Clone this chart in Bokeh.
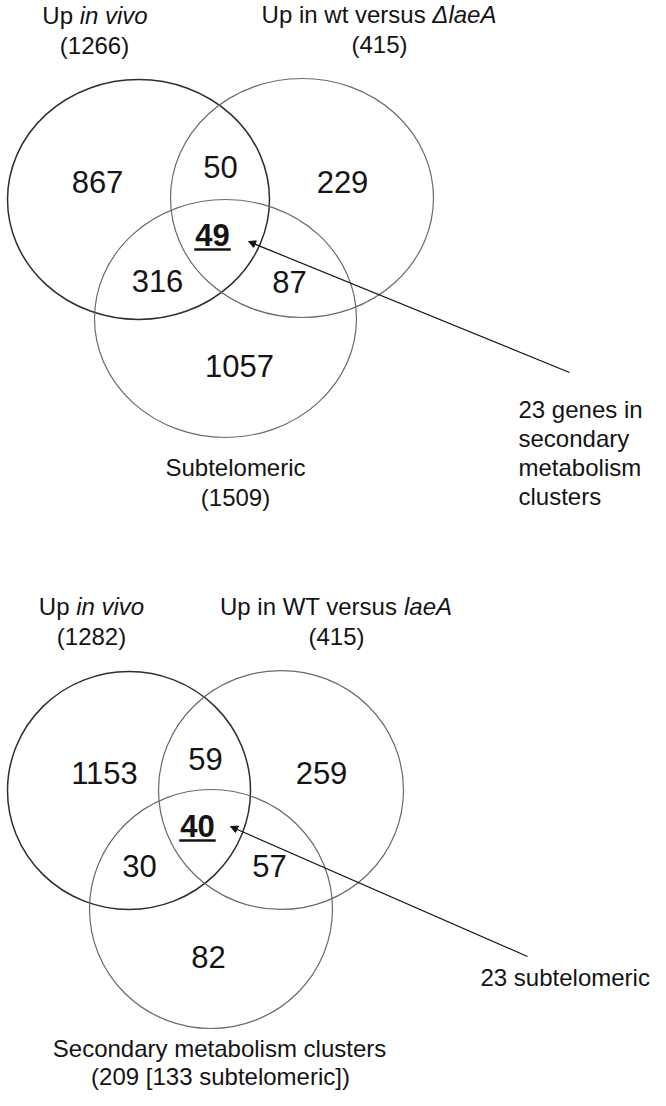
from bokeh.plotting import figure
from bokeh.models import Range1d, ColumnDataSource, Arrow, NormalHead
from bokeh.core.properties import value
from bokeh.embed import file_html
from bokeh.resources import INLINE

# ---------------- data ----------------
region_keys = ["A", "AB", "B", "ABC", "AC", "BC", "C"]
top_counts = [867, 50, 229, 49, 316, 87, 1057]
bottom_counts = [1153, 59, 259, 40, 30, 57, 82]

top_set_names = [("Up ", "in vivo"), ("Up in wt versus ", "\u0394laeA"), ("Subtelomeric", "")]
top_set_totals = ["(1266)", "(415)", "(1509)"]
bottom_set_names = [("Up ", "in vivo"), ("Up in WT versus ", "laeA"),
                    ("Secondary metabolism clusters", "")]
bottom_set_totals = ["(1282)", "(415)", "(209 [133 subtelomeric])"]

top_note = ["23 genes in", "secondary", "metabolism", "clusters"]
bottom_note = ["23 subtelomeric"]

# ---------------- layout (page pixel coordinates; y values are text centres) ----------------
FONT = "Liberation Sans"
LABEL_PX = 24
NUM_PX = 31
TXT = "#141414"

panels = [
    dict(
        counts=top_counts, names=top_set_names, totals=top_set_totals, note=top_note,
        circles=dict(x=[146, 309.5, 233], y=[207, 205.5, 326],
                     w=[262, 263, 262], h=[240, 239, 238]),
        region_xy={"A": (105, 189), "AB": (228, 174), "B": (350, 189), "ABC": (220, 242),
                   "AC": (165, 288), "BC": (297, 289), "C": (247, 373)},
        name_xy=[(102.5, 22.5), (386.5, 22), (243, 475)],
        total_xy=[(102, 53), (387, 52), (243, 505)],
        arrow=(577, 380, 256, 249),
        note_x=526, note_y=[417, 446, 475, 504],
    ),
    dict(
        counts=bottom_counts, names=bottom_set_names, totals=bottom_set_totals, note=bottom_note,
        circles=dict(x=[136.5, 288.5, 218.5], y=[798, 797.5, 916.5],
                     w=[243, 245, 243], h=[238, 239, 239]),
        region_xy={"A": (112, 780), "AB": (213, 766), "B": (329, 780), "ABC": (205, 833),
                   "AC": (147, 873), "BC": (277, 873), "C": (216, 964)},
        name_xy=[(99, 614), (343.5, 614), (227, 1056)],
        total_xy=[(99, 644), (344, 644), (228, 1084)],
        arrow=(535, 964, 238, 834),
        note_x=488, note_y=[985],
    ),
]

CIRCLE_COLORS = ["#2e2e2e", "#6a6a6a", "#6a6a6a"]
CIRCLE_WIDTHS = [1.5, 1.2, 1.2]

AW = {" ": 278, "(": 333, ")": 333, "[": 278, "]": 278, "a": 556, "b": 556, "c": 500,
      "d": 556, "e": 556, "g": 556, "i": 222, "l": 222, "m": 833, "n": 556, "o": 556,
      "p": 556, "r": 333, "s": 500, "t": 278, "u": 556, "v": 500, "w": 722, "y": 500,
      "A": 667, "S": 667, "T": 611, "U": 722, "W": 944, "\u0394": 668}
for d in "0123456789":
    AW[d] = 556


def text_width(s, px):
    return sum(AW.get(ch, 556) for ch in s) * px / 1000.0


W, H = 650, 1090
p = figure(width=W, height=H, x_range=Range1d(8, 8 + W), y_range=Range1d(8 + H, 8),
           toolbar_location=None, output_backend="svg", min_border=0,
           x_axis_location=None, y_axis_location=None)
p.grid.visible = False
p.outline_line_color = None
p.background_fill_color = "white"
p.border_fill_color = "white"


def txt(xs, ys, ts, px, align="left", style="normal"):
    p.text(x=xs, y=ys, text=ts, text_font=value(FONT),
           text_font_size=value(f"{px}px"), text_font_style=style, text_align=align,
           text_baseline="middle", text_color=TXT)


for pan in panels:
    c = pan["circles"]
    src = ColumnDataSource(dict(x=c["x"], y=c["y"], w=c["w"], h=c["h"],
                                lc=CIRCLE_COLORS, lw=CIRCLE_WIDTHS))
    p.ellipse(x="x", y="y", width="w", height="h", source=src, fill_color=None,
              line_color="lc", line_width="lw")

    plain_x, plain_y, plain_t = [], [], []
    bold_x, bold_y, bold_t = [], [], []
    for key, cnt in zip(region_keys, pan["counts"]):
        x, y = pan["region_xy"][key]
        if key == "ABC":
            bold_x.append(x); bold_y.append(y); bold_t.append(str(cnt))
        else:
            plain_x.append(x); plain_y.append(y); plain_t.append(str(cnt))
    txt(plain_x, plain_y, plain_t, NUM_PX, align="center")
    txt(bold_x, bold_y, bold_t, NUM_PX, align="center", style="bold")
    # underline beneath the triple-intersection count
    ul_w = [text_width(t, NUM_PX) + 2 for t in bold_t]
    p.segment(x0=[x - w / 2 for x, w in zip(bold_x, ul_w)], y0=[y + 15 for y in bold_y],
              x1=[x + w / 2 for x, w in zip(bold_x, ul_w)], y1=[y + 15 for y in bold_y],
              line_color=TXT, line_width=2.6)

    for (up, it), (cx, cy), tot, (tx, ty) in zip(pan["names"], pan["name_xy"],
                                                  pan["totals"], pan["total_xy"]):
        full = text_width(up + it, LABEL_PX)
        left = cx - full / 2
        txt([left], [cy], [up], LABEL_PX)
        if it:
            txt([left + text_width(up, LABEL_PX)], [cy], [it], LABEL_PX, style="italic")
        txt([tx], [ty], [tot], LABEL_PX, align="center")

    txt([pan["note_x"]] * len(pan["note"]), pan["note_y"], pan["note"], LABEL_PX)
    x0, y0, x1, y1 = pan["arrow"]
    p.add_layout(Arrow(end=NormalHead(size=7, fill_color="#111111", line_color="#111111",
                                      line_width=1),
                       x_start=x0, y_start=y0, x_end=x1, y_end=y1,
                       line_color="#111111", line_width=1.2))

open("out.html", "w").write(file_html(p, INLINE))
